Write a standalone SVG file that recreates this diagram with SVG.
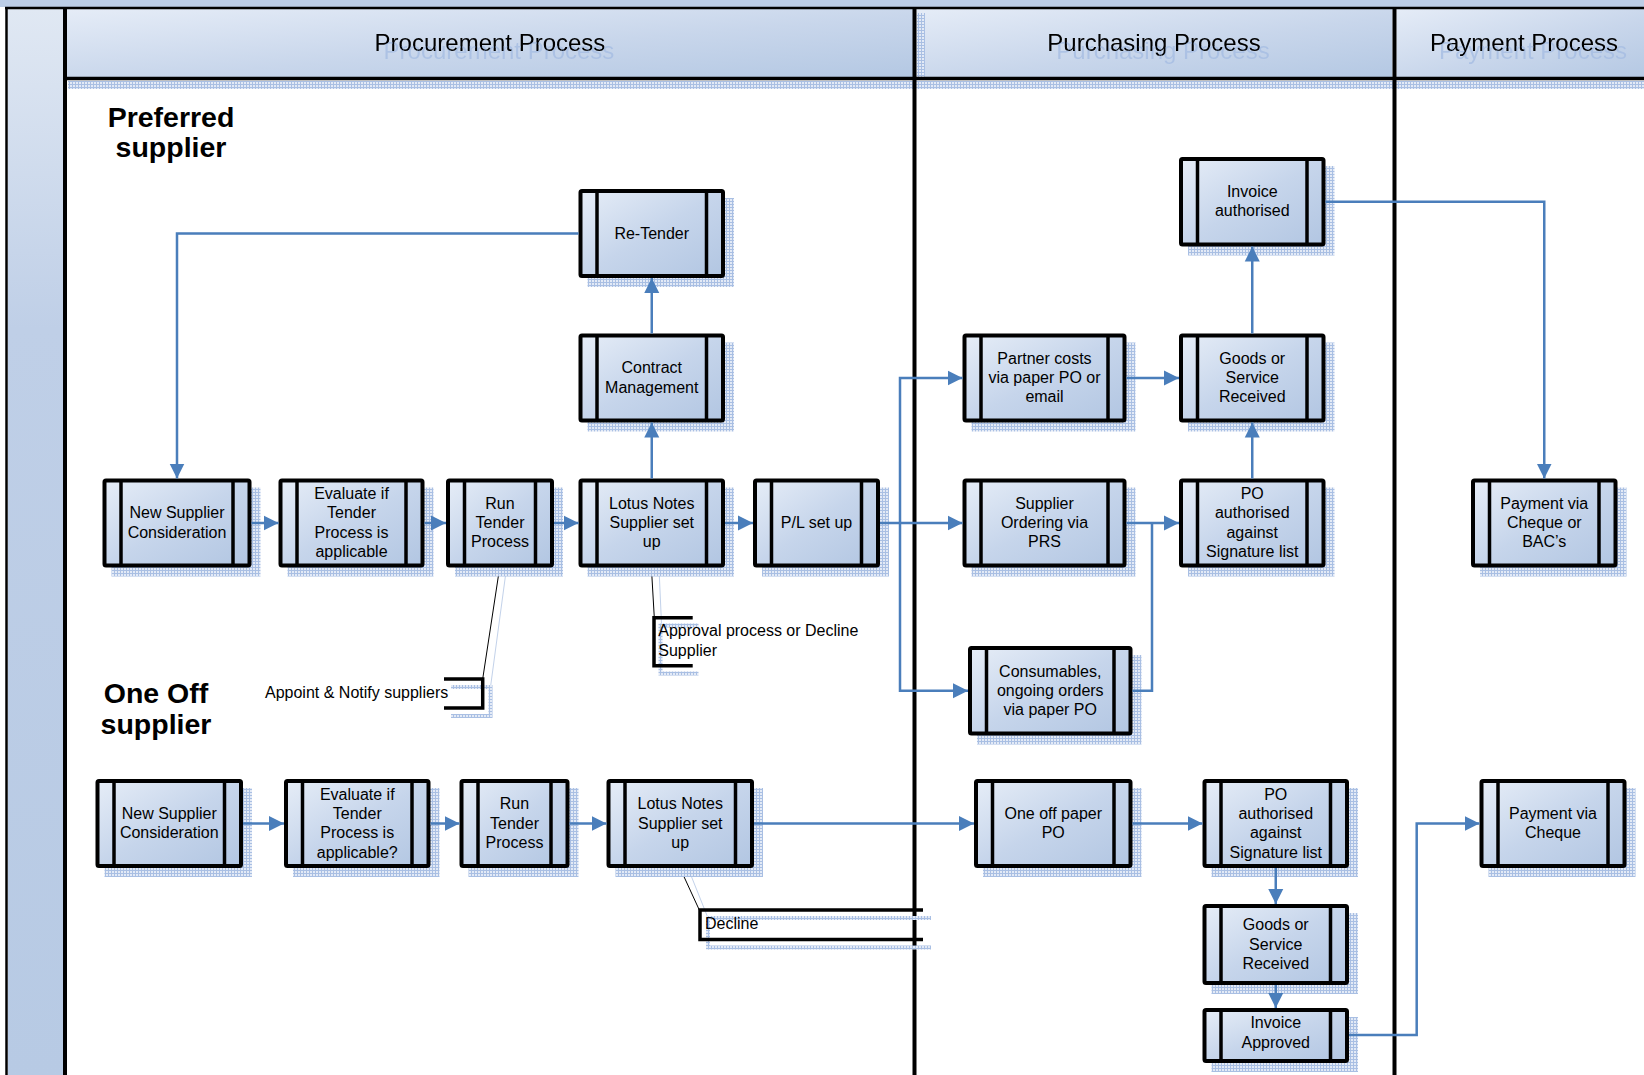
<svg xmlns="http://www.w3.org/2000/svg" width="1644" height="1075" viewBox="0 0 1644 1075">
<defs>
  <linearGradient id="nodeGrad" x1="0" y1="0" x2="1" y2="1">
    <stop offset="0" stop-color="#e6edf7"/>
    <stop offset="0.5" stop-color="#c6d5eb"/>
    <stop offset="1" stop-color="#b2c6e2"/>
  </linearGradient>
  <linearGradient id="headGrad" x1="0" y1="0" x2="1" y2="1">
    <stop offset="0" stop-color="#e5ecf7"/>
    <stop offset="0.55" stop-color="#c8d6eb"/>
    <stop offset="1" stop-color="#b4c8e3"/>
  </linearGradient>
  <linearGradient id="stripGrad" x1="0" y1="0" x2="0" y2="1">
    <stop offset="0" stop-color="#e0e8f3"/>
    <stop offset="0.3" stop-color="#bfcfe7"/>
    <stop offset="1" stop-color="#b7cae4"/>
  </linearGradient>
  <pattern id="dots" width="3" height="3" patternUnits="userSpaceOnUse">
    <rect width="3" height="3" fill="#e3eaf6"/>
    <rect width="3" height="1" fill="#a9bfe3"/>
    <rect width="1" height="3" fill="#a9bfe3"/>
  </pattern>
  <filter id="ghost" x="-5%" y="-20%" width="115%" height="160%">
    <feOffset in="SourceAlpha" dx="9" dy="8" result="off"/>
    <feFlood flood-color="#a3bbe2" flood-opacity="0.75"/>
    <feComposite in2="off" operator="in" result="sh"/>
    <feMerge>
      <feMergeNode in="sh"/>
      <feMergeNode in="SourceGraphic"/>
    </feMerge>
  </filter>
  <marker id="ah" markerUnits="userSpaceOnUse" markerWidth="16" markerHeight="16" refX="15" refY="8" orient="auto">
    <path d="M0,0.5 L15,8 L0,15.5 z" fill="#4a7ebb"/>
  </marker>
</defs>
<style>
  .box { fill: url(#nodeGrad); stroke: #000; stroke-width: 4; }
  .bar { stroke: #000; stroke-width: 3.5; }
  .shadow { fill: url(#dots); }
  .lbl { font-family: "Liberation Sans", Arial, sans-serif; font-size: 16px; text-anchor: middle; fill: #000; }
  .note { font-family: "Liberation Sans", Arial, sans-serif; font-size: 16px; fill: #000; }
  .head { font-family: "Liberation Sans", Arial, sans-serif; font-size: 24px; text-anchor: middle; fill: #000; filter: url(#ghost); }
  .big { font-family: "Liberation Sans", Arial, sans-serif; font-size: 28.5px; font-weight: bold; text-anchor: middle; fill: #000; }
  .conn { fill: none; stroke: #4a7ebb; stroke-width: 2.5; }
  .brk { fill: none; stroke: #000; stroke-width: 3.5; }
  .brksh { fill: none; stroke: url(#dots); stroke-width: 4; }
  .thin { stroke: #000; stroke-width: 1; fill: none; }
  .thinsh { stroke: #c3d2ea; stroke-width: 1; fill: none; }
  .lane { stroke: #000; stroke-width: 4; }
</style>

<rect x="0" y="0" width="1644" height="1075" fill="#ffffff"/>

<!-- pool / lanes -->
<g id="pool">
  <rect x="0" y="0" width="1644" height="7" fill="#bccde6"/>
  <rect x="8" y="9" width="56" height="1066" fill="url(#stripGrad)"/>
  <rect x="67" y="9" width="846" height="68" fill="url(#headGrad)"/>
  <rect x="916.5" y="9" width="476" height="68" fill="url(#headGrad)"/>
  <rect x="1396.5" y="9" width="260" height="68" fill="url(#headGrad)"/>
  <rect x="68" y="81" width="1576" height="8" fill="url(#dots)"/>
  <rect x="917" y="13" width="8" height="66" fill="url(#dots)"/>
  <line x1="5" y1="8" x2="1644" y2="8" stroke="#000" stroke-width="2.5"/>
  <line x1="6.5" y1="7" x2="6.5" y2="1075" stroke="#000" stroke-width="2.5"/>
  <line x1="63" y1="78.5" x2="1644" y2="78.5" stroke="#000" stroke-width="3.5"/>
  <line class="lane" x1="65" y1="7" x2="65" y2="1075"/>
  <line class="lane" x1="914.5" y1="7" x2="914.5" y2="1075"/>
  <line class="lane" x1="1394.5" y1="7" x2="1394.5" y2="1075"/>
  <text class="head" x="490" y="50.5">Procurement Process</text>
  <text class="head" x="1154" y="50.5">Purchasing Process</text>
  <text class="head" x="1524" y="50.5">Payment Process</text>
  <text class="big" x="171" y="127">Preferred</text>
  <text class="big" x="171" y="157">supplier</text>
  <text class="big" x="156" y="703">One Off</text>
  <text class="big" x="156" y="734">supplier</text>
</g>

<!-- annotations -->
<g id="note-appoint">
  <line class="thinsh" x1="506.5" y1="568" x2="490.5" y2="687"/>
  <line class="thin" x1="499.6" y1="568" x2="482.7" y2="679"/>
  <path class="brksh" d="M451,687 H490.5 V716 H451"/>
  <path class="brk" d="M444,679 H482.7 V708 H444"/>
  <text class="note" x="265" y="697.5">Appoint &amp; Notify suppliers</text>
</g>
<g id="note-approval">
  <line class="thinsh" x1="659" y1="568" x2="661.5" y2="624"/>
  <line class="thin" x1="651.4" y1="567.7" x2="654.3" y2="617.7"/>
  <path class="brksh" d="M698.5,625.5 H660.5 V673.5 H698.5"/>
  <path class="brk" d="M692.7,617.7 H654 V665.7 H692.7"/>
  <text class="note" x="658.3" y="636">Approval process or Decline</text>
  <text class="note" x="658.3" y="656">Supplier</text>
</g>
<g id="note-decline">
  <line class="thinsh" x1="688" y1="868" x2="708" y2="918"/>
  <line class="thin" x1="680" y1="868" x2="700" y2="911.5"/>
  <path class="brksh" d="M931,918 H708 V947.5 H931"/>
  <path class="brk" d="M923,910 H700 V939.5 H923"/>
  <text class="note" x="705" y="928.5">Decline</text>
</g>

<!-- nodes: preferred supplier -->
<g id="n-ps-new">
  <rect class="shadow" x="111.5" y="487.5" width="149" height="89"/>
  <rect class="box" x="104.5" y="480.5" width="145" height="85" rx="1.5"/>
  <line class="bar" x1="121" y1="480.5" x2="121" y2="565.5"/>
  <line class="bar" x1="233" y1="480.5" x2="233" y2="565.5"/>
  <text class="lbl" x="177" y="518.4">New Supplier</text>
  <text class="lbl" x="177" y="537.7">Consideration</text>
</g>
<g id="n-ps-eval">
  <rect class="shadow" x="287.5" y="487.5" width="146" height="89"/>
  <rect class="box" x="280.5" y="480.5" width="142" height="85" rx="1.5"/>
  <line class="bar" x1="297" y1="480.5" x2="297" y2="565.5"/>
  <line class="bar" x1="406" y1="480.5" x2="406" y2="565.5"/>
  <text class="lbl" x="351.5" y="499">Evaluate if</text>
  <text class="lbl" x="351.5" y="518.4">Tender</text>
  <text class="lbl" x="351.5" y="537.7">Process is</text>
  <text class="lbl" x="351.5" y="557">applicable</text>
</g>
<g id="n-ps-run">
  <rect class="shadow" x="455" y="487.5" width="108" height="89"/>
  <rect class="box" x="448" y="480.5" width="104" height="85" rx="1.5"/>
  <line class="bar" x1="464.5" y1="480.5" x2="464.5" y2="565.5"/>
  <line class="bar" x1="535.5" y1="480.5" x2="535.5" y2="565.5"/>
  <text class="lbl" x="500" y="508.7">Run</text>
  <text class="lbl" x="500" y="528">Tender</text>
  <text class="lbl" x="500" y="547.3">Process</text>
</g>
<g id="n-ps-lotus">
  <rect class="shadow" x="587.5" y="487.5" width="146.5" height="89"/>
  <rect class="box" x="580.5" y="480.5" width="142.5" height="85" rx="1.5"/>
  <line class="bar" x1="597" y1="480.5" x2="597" y2="565.5"/>
  <line class="bar" x1="706.5" y1="480.5" x2="706.5" y2="565.5"/>
  <text class="lbl" x="651.75" y="508.7">Lotus Notes</text>
  <text class="lbl" x="651.75" y="528">Supplier set</text>
  <text class="lbl" x="651.75" y="547.3">up</text>
</g>
<g id="n-ps-pl">
  <rect class="shadow" x="762" y="487.5" width="127" height="89"/>
  <rect class="box" x="755" y="480.5" width="123" height="85" rx="1.5"/>
  <line class="bar" x1="771.5" y1="480.5" x2="771.5" y2="565.5"/>
  <line class="bar" x1="861.5" y1="480.5" x2="861.5" y2="565.5"/>
  <text class="lbl" x="816.5" y="528">P/L set up</text>
</g>
<g id="n-retender">
  <rect class="shadow" x="587.5" y="198" width="146.5" height="89"/>
  <rect class="box" x="580.5" y="191" width="142.5" height="85" rx="1.5"/>
  <line class="bar" x1="597" y1="191" x2="597" y2="276"/>
  <line class="bar" x1="706.5" y1="191" x2="706.5" y2="276"/>
  <text class="lbl" x="651.75" y="238.5">Re-Tender</text>
</g>
<g id="n-contract">
  <rect class="shadow" x="587.5" y="342.5" width="146.5" height="89"/>
  <rect class="box" x="580.5" y="335.5" width="142.5" height="85" rx="1.5"/>
  <line class="bar" x1="597" y1="335.5" x2="597" y2="420.5"/>
  <line class="bar" x1="706.5" y1="335.5" x2="706.5" y2="420.5"/>
  <text class="lbl" x="651.75" y="373.4">Contract</text>
  <text class="lbl" x="651.75" y="392.7">Management</text>
</g>
<g id="n-partner">
  <rect class="shadow" x="971.5" y="342.5" width="164" height="89"/>
  <rect class="box" x="964.5" y="335.5" width="160" height="85" rx="1.5"/>
  <line class="bar" x1="981" y1="335.5" x2="981" y2="420.5"/>
  <line class="bar" x1="1108" y1="335.5" x2="1108" y2="420.5"/>
  <text class="lbl" x="1044.5" y="363.7">Partner costs</text>
  <text class="lbl" x="1044.5" y="383">via paper PO or</text>
  <text class="lbl" x="1044.5" y="402.3">email</text>
</g>
<g id="n-supplier-ordering">
  <rect class="shadow" x="971.5" y="487.5" width="164" height="89"/>
  <rect class="box" x="964.5" y="480.5" width="160" height="85" rx="1.5"/>
  <line class="bar" x1="981" y1="480.5" x2="981" y2="565.5"/>
  <line class="bar" x1="1108" y1="480.5" x2="1108" y2="565.5"/>
  <text class="lbl" x="1044.5" y="508.7">Supplier</text>
  <text class="lbl" x="1044.5" y="528">Ordering via</text>
  <text class="lbl" x="1044.5" y="547.3">PRS</text>
</g>
<g id="n-invoice-authorised">
  <rect class="shadow" x="1188" y="166" width="146.5" height="89.5"/>
  <rect class="box" x="1181" y="159" width="142.5" height="85.5" rx="1.5"/>
  <line class="bar" x1="1197.5" y1="159" x2="1197.5" y2="244.5"/>
  <line class="bar" x1="1307" y1="159" x2="1307" y2="244.5"/>
  <text class="lbl" x="1252.25" y="197.1">Invoice</text>
  <text class="lbl" x="1252.25" y="216.4">authorised</text>
</g>
<g id="n-goods">
  <rect class="shadow" x="1188" y="342.5" width="146.5" height="89"/>
  <rect class="box" x="1181" y="335.5" width="142.5" height="85" rx="1.5"/>
  <line class="bar" x1="1197.5" y1="335.5" x2="1197.5" y2="420.5"/>
  <line class="bar" x1="1307" y1="335.5" x2="1307" y2="420.5"/>
  <text class="lbl" x="1252.25" y="363.7">Goods or</text>
  <text class="lbl" x="1252.25" y="383">Service</text>
  <text class="lbl" x="1252.25" y="402.3">Received</text>
</g>
<g id="n-po-authorised">
  <rect class="shadow" x="1188" y="487.5" width="146.5" height="89"/>
  <rect class="box" x="1181" y="480.5" width="142.5" height="85" rx="1.5"/>
  <line class="bar" x1="1197.5" y1="480.5" x2="1197.5" y2="565.5"/>
  <line class="bar" x1="1307" y1="480.5" x2="1307" y2="565.5"/>
  <text class="lbl" x="1252.25" y="499">PO</text>
  <text class="lbl" x="1252.25" y="518.4">authorised</text>
  <text class="lbl" x="1252.25" y="537.7">against</text>
  <text class="lbl" x="1252.25" y="557">Signature list</text>
</g>
<g id="n-consumables">
  <rect class="shadow" x="977" y="655" width="164.5" height="89.5"/>
  <rect class="box" x="970" y="648" width="160.5" height="85.5" rx="1.5"/>
  <line class="bar" x1="986.5" y1="648" x2="986.5" y2="733.5"/>
  <line class="bar" x1="1114" y1="648" x2="1114" y2="733.5"/>
  <text class="lbl" x="1050.25" y="676.5">Consumables,</text>
  <text class="lbl" x="1050.25" y="695.8">ongoing orders</text>
  <text class="lbl" x="1050.25" y="715.1">via paper PO</text>
</g>
<g id="n-payment-bacs">
  <rect class="shadow" x="1480" y="487.5" width="146.5" height="89"/>
  <rect class="box" x="1473" y="480.5" width="142.5" height="85" rx="1.5"/>
  <line class="bar" x1="1489.5" y1="480.5" x2="1489.5" y2="565.5"/>
  <line class="bar" x1="1599" y1="480.5" x2="1599" y2="565.5"/>
  <text class="lbl" x="1544.25" y="508.7">Payment via</text>
  <text class="lbl" x="1544.25" y="528">Cheque or</text>
  <text class="lbl" x="1544.25" y="547.3">BAC’s</text>
</g>

<!-- nodes: one off supplier -->
<g id="n-oo-new">
  <rect class="shadow" x="104.5" y="788" width="147.5" height="89"/>
  <rect class="box" x="97.5" y="781" width="143.5" height="85" rx="1.5"/>
  <line class="bar" x1="114" y1="781" x2="114" y2="866"/>
  <line class="bar" x1="224.5" y1="781" x2="224.5" y2="866"/>
  <text class="lbl" x="169.25" y="818.9">New Supplier</text>
  <text class="lbl" x="169.25" y="838.2">Consideration</text>
</g>
<g id="n-oo-eval">
  <rect class="shadow" x="293" y="788" width="146.5" height="89"/>
  <rect class="box" x="286" y="781" width="142.5" height="85" rx="1.5"/>
  <line class="bar" x1="302.5" y1="781" x2="302.5" y2="866"/>
  <line class="bar" x1="412" y1="781" x2="412" y2="866"/>
  <text class="lbl" x="357.25" y="799.6">Evaluate if</text>
  <text class="lbl" x="357.25" y="818.9">Tender</text>
  <text class="lbl" x="357.25" y="838.2">Process is</text>
  <text class="lbl" x="357.25" y="857.5">applicable?</text>
</g>
<g id="n-oo-run">
  <rect class="shadow" x="468.5" y="788" width="110" height="89"/>
  <rect class="box" x="461.5" y="781" width="106" height="85" rx="1.5"/>
  <line class="bar" x1="478" y1="781" x2="478" y2="866"/>
  <line class="bar" x1="551" y1="781" x2="551" y2="866"/>
  <text class="lbl" x="514.5" y="809.2">Run</text>
  <text class="lbl" x="514.5" y="828.5">Tender</text>
  <text class="lbl" x="514.5" y="847.8">Process</text>
</g>
<g id="n-oo-lotus">
  <rect class="shadow" x="615.5" y="788" width="147.5" height="89"/>
  <rect class="box" x="608.5" y="781" width="143.5" height="85" rx="1.5"/>
  <line class="bar" x1="625" y1="781" x2="625" y2="866"/>
  <line class="bar" x1="735.5" y1="781" x2="735.5" y2="866"/>
  <text class="lbl" x="680.25" y="809.2">Lotus Notes</text>
  <text class="lbl" x="680.25" y="828.5">Supplier set</text>
  <text class="lbl" x="680.25" y="847.8">up</text>
</g>
<g id="n-oo-po">
  <rect class="shadow" x="983" y="788" width="158.5" height="89"/>
  <rect class="box" x="976" y="781" width="154.5" height="85" rx="1.5"/>
  <line class="bar" x1="992.5" y1="781" x2="992.5" y2="866"/>
  <line class="bar" x1="1114" y1="781" x2="1114" y2="866"/>
  <text class="lbl" x="1053.25" y="818.9">One off paper</text>
  <text class="lbl" x="1053.25" y="838.2">PO</text>
</g>
<g id="n-oo-po-authorised">
  <rect class="shadow" x="1211.5" y="788" width="146.5" height="89"/>
  <rect class="box" x="1204.5" y="781" width="142.5" height="85" rx="1.5"/>
  <line class="bar" x1="1221" y1="781" x2="1221" y2="866"/>
  <line class="bar" x1="1330.5" y1="781" x2="1330.5" y2="866"/>
  <text class="lbl" x="1275.75" y="799.6">PO</text>
  <text class="lbl" x="1275.75" y="818.9">authorised</text>
  <text class="lbl" x="1275.75" y="838.2">against</text>
  <text class="lbl" x="1275.75" y="857.5">Signature list</text>
</g>
<g id="n-oo-goods">
  <rect class="shadow" x="1211.5" y="913" width="146.5" height="81"/>
  <rect class="box" x="1204.5" y="906" width="142.5" height="77" rx="1.5"/>
  <line class="bar" x1="1221" y1="906" x2="1221" y2="983"/>
  <line class="bar" x1="1330.5" y1="906" x2="1330.5" y2="983"/>
  <text class="lbl" x="1275.75" y="930.2">Goods or</text>
  <text class="lbl" x="1275.75" y="949.5">Service</text>
  <text class="lbl" x="1275.75" y="968.8">Received</text>
</g>
<g id="n-oo-invoice">
  <rect class="shadow" x="1211.5" y="1017" width="146.5" height="55"/>
  <rect class="box" x="1204.5" y="1010" width="142.5" height="51" rx="1.5"/>
  <line class="bar" x1="1221" y1="1010" x2="1221" y2="1061"/>
  <line class="bar" x1="1330.5" y1="1010" x2="1330.5" y2="1061"/>
  <text class="lbl" x="1275.75" y="1028.4">Invoice</text>
  <text class="lbl" x="1275.75" y="1047.7">Approved</text>
</g>
<g id="n-oo-payment">
  <rect class="shadow" x="1488.5" y="788" width="147" height="89"/>
  <rect class="box" x="1481.5" y="781" width="143" height="85" rx="1.5"/>
  <line class="bar" x1="1498" y1="781" x2="1498" y2="866"/>
  <line class="bar" x1="1608" y1="781" x2="1608" y2="866"/>
  <text class="lbl" x="1553" y="818.9">Payment via</text>
  <text class="lbl" x="1553" y="838.2">Cheque</text>
</g>

<!-- connectors (drawn above node shadows) -->
<g id="connectors">
  <path class="conn" marker-end="url(#ah)" d="M251.5,523 H278.5"/>
  <path class="conn" marker-end="url(#ah)" d="M424.5,523 H446"/>
  <path class="conn" marker-end="url(#ah)" d="M554,523 H578.5"/>
  <path class="conn" marker-end="url(#ah)" d="M725,523 H753"/>
  <path class="conn" marker-end="url(#ah)" d="M880,523 H962.5"/>
  <path class="conn" marker-end="url(#ah)" d="M900,523 V378 H962.5"/>
  <path class="conn" marker-end="url(#ah)" d="M900,523 V690.75 H968"/>
  <path class="conn" marker-end="url(#ah)" d="M1126.5,378 H1179"/>
  <path class="conn" marker-end="url(#ah)" d="M1126.5,523 H1179"/>
  <path class="conn" d="M1132.5,690.75 H1152 V523"/>
  <path class="conn" marker-end="url(#ah)" d="M1252.25,478.5 V422.5"/>
  <path class="conn" marker-end="url(#ah)" d="M1252.25,333.5 V246.5"/>
  <path class="conn" marker-end="url(#ah)" d="M1325.5,201.75 H1544.25 V478.5"/>
  <path class="conn" marker-end="url(#ah)" d="M651.75,478.5 V422.5"/>
  <path class="conn" marker-end="url(#ah)" d="M651.75,333.5 V278"/>
  <path class="conn" marker-end="url(#ah)" d="M578.5,233.5 H177 V478.5"/>
  <path class="conn" marker-end="url(#ah)" d="M243,823.5 H284"/>
  <path class="conn" marker-end="url(#ah)" d="M430.5,823.5 H459.5"/>
  <path class="conn" marker-end="url(#ah)" d="M569.5,823.5 H606.5"/>
  <path class="conn" marker-end="url(#ah)" d="M754,823.5 H974"/>
  <path class="conn" marker-end="url(#ah)" d="M1132.5,823.5 H1202.5"/>
  <path class="conn" marker-end="url(#ah)" d="M1275.75,868 V904"/>
  <path class="conn" marker-end="url(#ah)" d="M1275.75,985 V1008"/>
  <path class="conn" marker-end="url(#ah)" d="M1349,1035 H1416.7 V823.5 H1479.5"/>
</g>
</svg>
